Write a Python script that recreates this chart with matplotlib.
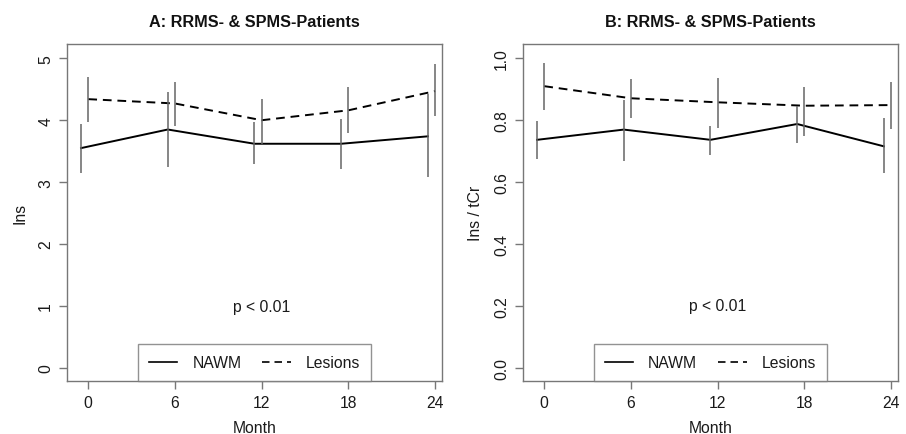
import numpy as np
from matplotlib import pyplot as plt
from matplotlib.lines import Line2D

plt.rcParams['font.family'] = ['Liberation Sans', 'DejaVu Sans']

months = [0, 6, 12, 18, 24]
month_ticks = ['0', '6', '12', '18', '24']

# panel A: Ins
ins_nawm = [3.55, 3.85, 3.62, 3.62, 3.74]
ins_nawm_lo = [3.15, 3.25, 3.29, 3.21, 3.08]
ins_nawm_hi = [3.94, 4.45, 3.97, 4.02, 4.42]
ins_les = [4.34, 4.27, 4.00, 4.16, 4.47]
ins_les_lo = [3.97, 3.91, 3.62, 3.79, 4.07]
ins_les_hi = [4.70, 4.62, 4.35, 4.53, 4.90]

# panel B: Ins / tCr
ratio_nawm = [0.736, 0.769, 0.736, 0.787, 0.715]
ratio_nawm_lo = [0.674, 0.669, 0.688, 0.725, 0.628]
ratio_nawm_hi = [0.798, 0.865, 0.780, 0.846, 0.805]
ratio_les = [0.909, 0.870, 0.857, 0.846, 0.848]
ratio_les_lo = [0.833, 0.805, 0.773, 0.749, 0.771]
ratio_les_hi = [0.984, 0.932, 0.934, 0.905, 0.921]

frame_col = '#777777'
bar_col = '#666666'
txt_col = '#1a1a1a'
fs = 11.3
dash = (0, (4.5, 3))


def draw_panel(ax, title, ylabel, nawm, nlo, nhi, les, llo, lhi, yticks, ylim, ptext_y, fmt):
    x = np.array(months, dtype=float)
    xn = x - 0.5  # NAWM shifted a little left, as in the original
    ax.plot(xn, nawm, color='black', lw=1.4, ls='-')
    ax.plot(x, les, color='black', lw=1.4, ls=dash)
    ax.vlines(xn, nlo, nhi, color=bar_col, lw=1.1)
    ax.vlines(x, llo, lhi, color=bar_col, lw=1.1)

    ax.set_xlim(-1.47, 24.48)
    ax.set_ylim(*ylim)
    ax.set_xticks(months)
    ax.set_xticklabels(month_ticks)
    ax.set_yticks(yticks)
    ax.set_yticklabels([fmt % v for v in yticks], rotation=90, va='center')
    ax.tick_params(axis='both', colors=frame_col, labelcolor=txt_col,
                   labelsize=fs, length=6, width=1)
    ax.tick_params(axis='y', pad=4)
    ax.tick_params(axis='x', pad=4)
    for s in ax.spines.values():
        s.set_color(frame_col)
        s.set_linewidth(1)

    ax.set_title(title, fontsize=11.7, fontweight='bold', pad=13, color='#111111')
    ax.set_xlabel('Month', fontsize=fs, labelpad=7, color=txt_col)
    ax.set_ylabel(ylabel, fontsize=fs, labelpad=8, color=txt_col)
    ax.text(12, ptext_y, 'p < 0.01', ha='center', va='center', fontsize=fs, color=txt_col)

    handles = [Line2D([], [], color='black', lw=1.2, ls='-'),
               Line2D([], [], color='black', lw=1.2, ls=dash)]
    leg = ax.legend(handles, ['NAWM', 'Lesions'], loc='lower center', ncol=2,
                    bbox_to_anchor=(0.5, 0.0), fontsize=fs, frameon=True, fancybox=False,
                    borderpad=0.7, handlelength=1.8, columnspacing=1.35, handletextpad=0.95,
                    borderaxespad=0)
    leg.get_frame().set_edgecolor(frame_col)
    leg.get_frame().set_linewidth(1)
    for t in leg.get_texts():
        t.set_color(txt_col)


fig = plt.figure(figsize=(9.06, 4.35), dpi=100)
axA = fig.add_axes([0.0740, 0.1218, 0.4139, 0.7747])
axB = fig.add_axes([0.5773, 0.1218, 0.4139, 0.7747])

draw_panel(axA, 'A: RRMS- & SPMS-Patients', 'Ins',
           ins_nawm, ins_nawm_lo, ins_nawm_hi, ins_les, ins_les_lo, ins_les_hi,
           [0, 1, 2, 3, 4, 5], (-0.21, 5.23), 1.0, '%d')
draw_panel(axB, 'B: RRMS- & SPMS-Patients', 'Ins / tCr',
           ratio_nawm, ratio_nawm_lo, ratio_nawm_hi, ratio_les, ratio_les_lo, ratio_les_hi,
           [0.0, 0.2, 0.4, 0.6, 0.8, 1.0], (-0.042, 1.045), 0.2, '%.1f')

fig.savefig('out.png', dpi=100)
